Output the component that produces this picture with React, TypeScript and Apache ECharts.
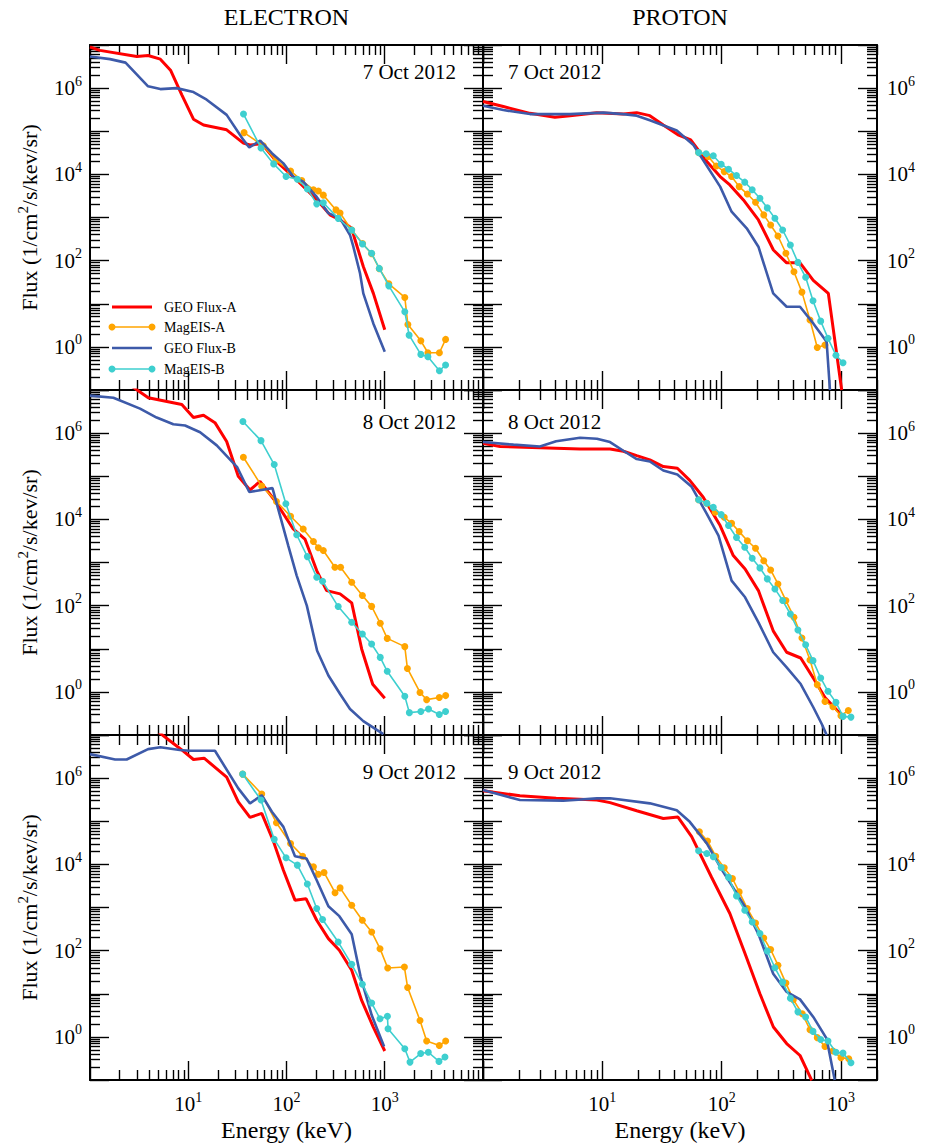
import React, { useEffect, useRef } from 'react';
import * as echarts from 'echarts';

type Pt = [number, number];

const FONT = "'Liberation Serif', 'Times New Roman', Times, serif";

// Headings and names
const COLUMN_TITLES = ['ELECTRON', 'PROTON'];
const DATE_LABELS = ['7 Oct 2012', '8 Oct 2012', '9 Oct 2012'];
const SERIES_NAMES = ['GEO Flux-A', 'MagEIS-A', 'GEO Flux-B', 'MagEIS-B'];
const X_NAME = 'Energy (keV)';

// Axis ranges and ticks
const FLUX_RANGE = [0.1, 1e7];
const ELECTRON_RANGE = [1, 1e4];
const PROTON_RANGE = [1, 2000];
const FLUX_DECADES = [0.1, 1, 10, 100, 1e3, 1e4, 1e5, 1e6, 1e7];
const FLUX_TICK_LABELS = [1, 100, 1e4, 1e6];
const ELECTRON_DECADES = [1, 10, 100, 1000, 10000];
const PROTON_DECADES = [1, 10, 100, 1000];
const ENERGY_TICK_LABELS = [10, 100, 1000];
const MINOR_STEPS = [2, 3, 4, 5, 6, 7, 8, 9];

// ---- 7 Oct 2012 ----
const e7GeoA: Pt[] = [[1.0, 9.0e6], [1.26, 7.5e6], [3.0, 5.4e6], [3.9, 5.7e6], [5.2, 4.7e6], [6.6, 2.6e6], [8.6, 7.0e5], [11.3, 1.9e5], [14.3, 1.4e5], [24.6, 1.08e5], [36.4, 5.3e4], [42.5, 4.8e4], [56, 5.1e4], [79, 2.0e4], [127, 7.4e3], [203, 2.6e3], [277, 1.15e3], [351, 880], [461, 562], [499, 300], [606, 72], [766, 17.4], [1000, 2.5]];
const e7MagA: Pt[] = [[37, 9.3e4], [58, 4.6e4], [78, 2.1e4], [110, 1.2e4], [143, 7.2e3], [188, 4.4e3], [211, 4.1e3], [237, 3.3e3], [319, 1.5e3], [351, 1.27e3], [461, 510], [594, 250], [735, 145], [880, 65], [1100, 29], [1600, 14], [1720, 3.3], [2330, 1.38], [2750, 0.73], [3600, 0.73], [4160, 1.49]];
const e7GeoB: Pt[] = [[1, 5.4e6], [1.6, 4.7e6], [2.3, 3.9e6], [3.9, 1.1e6], [5.2, 9.5e5], [7.6, 1.0e6], [11.3, 8.1e5], [15.4, 5.4e5], [24.6, 2.4e5], [36.4, 6.3e4], [41.8, 4.2e4], [54, 6.1e4], [71, 3.1e4], [93, 1.8e4], [117, 8.9e3], [148, 6.8e3], [203, 3.0e3], [267, 1.26e3], [351, 955], [443, 393], [479, 210], [560, 51], [605, 17.4], [765, 3.5], [1000, 0.77]];
const e7MagB: Pt[] = [[36.5, 2.5e5], [55, 4.1e4], [74, 1.75e4], [99, 8.9e3], [129, 7.7e3], [163, 4.6e3], [203, 2.07e3], [237, 2.2e3], [336, 955], [461, 513], [594, 243], [735, 148], [880, 66], [1100, 26], [1600, 6.5], [1770, 1.87], [2330, 0.67], [2750, 0.59], [3600, 0.28], [4160, 0.38]];

const p7GeoA: Pt[] = [[1, 4.9e5], [1.48, 3.75e5], [2.48, 2.6e5], [4.0, 2.1e5], [5.36, 2.3e5], [9.0, 2.7e5], [15, 2.5e5], [19.4, 2.7e5], [25, 2.3e5], [32.4, 1.4e5], [43, 8.3e4], [55, 6.3e4], [75, 2.0e4], [97, 8.9e3], [117, 5.7e3], [152, 2.55e3], [203, 877], [271, 176], [350, 89], [453, 89], [585, 35], [782, 17.4], [1012, 0.1]];
const p7MagA: Pt[] = [[64, 3.2e4], [77, 2.6e4], [90, 1.57e4], [105, 1.16e4], [121, 8.9e3], [140, 5.2e3], [164, 3.5e3], [192, 2.26e3], [225, 1.15e3], [257, 671], [296, 372], [345, 148], [403, 55], [470, 18.6], [549, 4.2], [632, 0.97], [733, 1.1]];
const p7GeoB: Pt[] = [[1, 3.9e5], [1.48, 3.1e5], [2.48, 2.5e5], [5.36, 2.5e5], [10.2, 2.7e5], [15, 2.5e5], [19.4, 2.3e5], [25, 1.8e5], [42, 1.04e5], [58, 4.8e4], [97, 5.2e3], [121, 1.36e3], [162, 562], [203, 210], [270, 17.4], [350, 8.5], [453, 8.5], [585, 3.5], [757, 1.31], [807, 0.1]];
const p7MagB: Pt[] = [[64, 3.2e4], [74, 3.0e4], [85, 2.7e4], [99, 1.72e4], [114, 1.32e4], [133, 9.4e3], [156, 6.6e3], [180, 4.4e3], [209, 2.8e3], [241, 1.67e3], [279, 960], [324, 513], [376, 230], [435, 91], [505, 41], [582, 11.7], [675, 3.95], [777, 1.58], [906, 0.64], [1038, 0.43]];

// ---- 8 Oct 2012 ----
const e8GeoA: Pt[] = [[2.44, 1.4e7], [3.92, 6.6e6], [8.6, 4.6e6], [11.3, 2.3e6], [14.3, 2.6e6], [18.7, 1.75e6], [24.6, 6.4e5], [32.3, 1.0e5], [42.5, 4.8e4], [53.8, 7.6e4], [76.4, 2.7e4], [117, 6.0e3], [154, 3.5e3], [203, 650], [256, 223], [351, 187], [461, 116], [582, 9.9], [754, 1.5], [1000, 0.71]];
const e8MagA: Pt[] = [[36.4, 2.75e5], [56, 5.9e4], [79, 2.6e4], [110, 1.18e4], [148, 6.0e3], [188, 3.06e3], [211, 2.2e3], [237, 1.9e3], [311, 776], [355, 776], [461, 347], [592, 171], [735, 96], [900, 39], [1060, 17.4], [1600, 11.2], [1700, 3.5], [2285, 0.97], [2670, 0.66], [3590, 0.74], [4170, 0.82]];
const e8GeoB: Pt[] = [[1, 7.4e6], [1.73, 6.6e6], [3.23, 3.7e6], [4.77, 2.3e6], [7.05, 1.6e6], [9.28, 1.5e6], [13.2, 1.05e6], [19.5, 5.2e5], [31.6, 1.6e5], [41.8, 4.3e4], [72, 5.3e4], [82, 1.8e4], [104, 2.5e3], [127, 497], [161, 100], [205, 9], [267, 2.4], [351, 0.89], [443, 0.4], [605, 0.21], [968, 0.105]];
const e8MagB: Pt[] = [[36, 1.86e6], [55, 6.7e5], [75, 1.87e5], [98.6, 2.3e4], [127, 4.4e3], [163, 1.37e3], [203, 454], [233, 366], [336, 95], [461, 41], [592, 22], [735, 12.9], [900, 6.3], [1060, 3.0], [1600, 0.79], [1780, 0.33], [2330, 0.35], [2790, 0.4], [3590, 0.3], [4160, 0.35]];

const p8GeoA: Pt[] = [[1, 5.8e5], [1.39, 4.9e5], [3.0, 4.6e5], [6.5, 4.3e5], [11.6, 4.3e5], [15, 3.8e5], [19.4, 3.0e5], [25, 2.4e5], [32.4, 1.68e5], [42.5, 1.53e5], [54, 8e4], [70, 3.26e4], [97, 7.2e3], [125, 1.45e3], [157, 710], [203, 223], [270, 26], [350, 8.3], [459, 6.1], [604, 1.82], [733, 0.74], [1000, 0.3]];
const p8MagA: Pt[] = [[64, 2.84e4], [75, 2.37e4], [88, 1.46e4], [105, 1.12e4], [121, 8.1e3], [140, 5.2e3], [164, 3.2e3], [192, 2.14e3], [225, 1.1e3], [257, 673], [296, 318], [345, 131], [403, 54], [470, 17.8], [549, 5.5], [632, 1.47], [733, 0.6], [855, 0.45], [998, 0.28], [1150, 0.37]];
const p8GeoB: Pt[] = [[1, 6.2e5], [1.8, 5.4e5], [3.0, 4.9e5], [4.1, 6.5e5], [6.5, 7.8e5], [9.0, 7.4e5], [11.6, 6.2e5], [15, 3.9e5], [19.4, 2.5e5], [25, 2.2e5], [32.4, 1.36e5], [42.5, 1.1e5], [56, 5.7e4], [75, 1.34e4], [94, 4.2e3], [121, 380], [157, 156], [203, 41], [270, 8.3], [350, 3.7], [459, 1.52], [585, 0.44], [689, 0.18], [757, 0.1]];
const p8MagB: Pt[] = [[64, 2.84e4], [75, 2.37e4], [85, 1.9e4], [99, 1.29e4], [114, 7.2e3], [133, 3.8e3], [156, 2.25e3], [180, 1.25e3], [209, 750], [241, 417], [279, 244], [324, 131], [376, 64], [435, 27.3], [505, 12.4], [582, 5.3], [675, 2.1], [777, 1.03], [906, 0.57], [1038, 0.27], [1210, 0.26]];

// ---- 9 Oct 2012 ----
const e9GeoA: Pt[] = [[4.1, 1.65e7], [8.6, 4.5e6], [11.3, 2.7e6], [14.5, 2.9e6], [24.6, 1.06e6], [32.3, 2.8e5], [42.5, 1.23e5], [56, 1.52e5], [73, 3.6e4], [93, 7.3e3], [122, 1.48e3], [158, 1.6e3], [203, 507], [267, 190], [345, 102], [461, 35], [582, 7.0], [765, 1.69], [1000, 0.47]];
const e9MagA: Pt[] = [[35.8, 1.24e6], [56, 4.3e5], [79, 9.2e4], [110, 3.06e4], [146, 1.55e4], [188, 8.8e3], [211, 5.9e3], [241, 6.5e3], [312, 2.2e3], [351, 2.85e3], [461, 1.13e3], [591, 507], [736, 271], [895, 111], [1072, 39.5], [1585, 41.7], [1710, 13.9], [2285, 2.4], [2670, 0.8], [3590, 0.63], [4170, 0.8]];
const e9GeoB: Pt[] = [[1, 3.6e6], [1.8, 2.7e6], [2.36, 2.7e6], [3.9, 4.7e6], [5.2, 5.2e6], [8.2, 4.5e6], [10.4, 4.3e6], [18.7, 4.3e6], [32.3, 5.8e5], [42.5, 2.6e5], [56, 4.0e5], [71, 1.66e5], [93, 7.4e4], [122, 1.55e4], [160, 1.37e4], [203, 4.3e3], [267, 1.07e3], [345, 630], [461, 240], [569, 24.4], [736, 3.2], [984, 0.6]];
const e9MagB: Pt[] = [[35.8, 1.24e6], [55, 3.1e5], [75, 3.8e4], [99, 1.42e4], [129, 9.6e3], [163, 3.5e3], [203, 946], [233, 525], [336, 158], [461, 48], [591, 16.6], [736, 6.1], [895, 2.64], [1065, 3.0], [1080, 1.55], [1600, 0.53], [1807, 0.26], [2322, 0.41], [2775, 0.44], [3564, 0.27], [4100, 0.34]];

const p9GeoA: Pt[] = [[1, 5.1e5], [2.04, 3.9e5], [4.1, 3.4e5], [9.0, 3.1e5], [11.6, 2.7e5], [19.4, 1.75e5], [32.4, 1.16e5], [43, 1.25e5], [56, 4.4e4], [82, 5.1e3], [117, 724], [157, 85], [209, 10], [271, 1.69], [350, 0.7], [453, 0.37], [568, 0.098]];
const p9MagA: Pt[] = [[65, 5.7e4], [76, 3.5e4], [89, 1.55e4], [105, 8.3e3], [123, 4.7e3], [140, 2.3e3], [164, 946], [192, 438], [225, 197], [257, 106], [296, 46], [345, 17.7], [398, 7.3], [473, 3.45], [549, 1.47], [632, 0.96], [733, 0.6], [855, 0.47], [998, 0.33], [1160, 0.31]];
const p9GeoB: Pt[] = [[1, 5.3e5], [2.04, 3.1e5], [4.7, 3.0e5], [9, 3.4e5], [11.6, 3.4e5], [25, 2.6e5], [42, 1.8e5], [54, 9.7e4], [75, 3.06e4], [97, 8.7e3], [121, 3.3e3], [157, 1.03e3], [205, 227], [270, 29], [350, 11], [453, 7.4], [585, 2.9], [757, 0.91], [885, 0.1]];
const p9MagB: Pt[] = [[64, 2.06e4], [75, 1.79e4], [85, 1.5e4], [99, 8.5e3], [114, 5.0e3], [133, 1.86e3], [156, 864], [180, 462], [209, 249], [241, 98], [279, 40], [324, 18.6], [376, 7.9], [435, 3.8], [505, 2.9], [582, 1.34], [675, 0.87], [777, 0.8], [906, 0.44], [1038, 0.42], [1210, 0.25]];

const PANEL_DATA: Pt[][][] = [
  [e7GeoA, e7MagA, e7GeoB, e7MagB], [p7GeoA, p7MagA, p7GeoB, p7MagB],
  [e8GeoA, e8MagA, e8GeoB, e8MagB], [p8GeoA, p8MagA, p8GeoB, p8MagB],
  [e9GeoA, e9MagA, e9GeoB, e9MagB], [p9GeoA, p9MagA, p9GeoB, p9MagB],
];

// Styling
const SERIES_COLORS = ['#ff0000', '#ffa500', '#3d5aa9', '#3ecfcf'];
const SERIES_WIDTHS = [3, 1.6, 2.6, 1.6];
const SERIES_MARKED = [false, true, false, true];
const GRID_LEFT = [90, 483];
const GRID_WIDTH = [393, 394];
const GRID_TOP = [45, 390, 735];
const GRID_HEIGHT = 345;
const MAJOR_LEN = 19;
const MINOR_LEN = 10;

const minorValues = (decades: number[], max: number) => {
  const out: number[] = [];
  decades.forEach((d) => MINOR_STEPS.forEach((s) => { const v = d * s; if (v <= max) out.push(v); }));
  return out;
};

const tickRich = {
  b: { fontFamily: FONT, fontSize: 21, color: '#000' },
  s: { fontFamily: FONT, fontSize: 14, color: '#000', padding: [0, 0, 14, 0] },
};
const powLabel = (v: number) => `{b|10}{s|${Math.round(Math.log10(v))}}`;

const buildOption = () => {
  const grid: any[] = [];
  const xAxis: any[] = [];
  const yAxis: any[] = [];
  const series: any[] = [];
  const graphic: any[] = [];
  const axisLine = { show: true, onZero: false, lineStyle: { color: '#000', width: 2 } };
  const tickStyle = { color: '#000', width: 1.4 };

  PANEL_DATA.forEach((lines, i) => {
    const row = Math.floor(i / 2);
    const col = i % 2;
    grid.push({ left: GRID_LEFT[col], top: GRID_TOP[row], width: GRID_WIDTH[col], height: GRID_HEIGHT });
    const eRange = col === 0 ? ELECTRON_RANGE : PROTON_RANGE;
    const eDecades = col === 0 ? ELECTRON_DECADES : PROTON_DECADES;
    const eMinor = minorValues(eDecades, eRange[1]);
    const fMinor = minorValues(FLUX_DECADES, FLUX_RANGE[1]);
    const base = 4 * i;

    ['bottom', 'top'].forEach((position) => {
      const labelled = position === 'bottom' && row === 2;
      xAxis.push({
        type: 'log', logBase: 10, gridIndex: i, position, min: eRange[0], max: eRange[1],
        axisLine,
        axisTick: { show: true, inside: true, length: MAJOR_LEN, customValues: eDecades, lineStyle: tickStyle },
        axisLabel: labelled
          ? { show: true, customValues: ENERGY_TICK_LABELS, formatter: powLabel, rich: tickRich, margin: 10 }
          : { show: false },
        splitLine: { show: false },
        name: labelled ? X_NAME : '',
        nameLocation: 'middle',
        nameGap: 38,
        nameTextStyle: { fontFamily: FONT, fontSize: 24, color: '#000' },
      });
      xAxis.push({
        type: 'log', logBase: 10, gridIndex: i, position, min: eRange[0], max: eRange[1],
        axisLine: { show: false, onZero: false },
        axisTick: { show: true, inside: true, length: MINOR_LEN, customValues: eMinor, lineStyle: tickStyle },
        axisLabel: { show: false },
        splitLine: { show: false },
      });
    });

    ['left', 'right'].forEach((position) => {
      const labelled = (position === 'left' && col === 0) || (position === 'right' && col === 1);
      const named = position === 'left' && col === 0;
      yAxis.push({
        type: 'log', logBase: 10, gridIndex: i, position, min: FLUX_RANGE[0], max: FLUX_RANGE[1],
        axisLine,
        axisTick: { show: true, inside: true, length: MAJOR_LEN, customValues: FLUX_DECADES, lineStyle: tickStyle },
        axisLabel: labelled
          ? { show: true, customValues: FLUX_TICK_LABELS, formatter: powLabel, rich: tickRich, margin: position === 'left' ? 8 : 10 }
          : { show: false },
        splitLine: { show: false },
        name: named ? '{t|Flux (1/cm}{s|2}{t|/s/kev/sr)}' : '',
        nameLocation: 'middle',
        nameRotate: 90,
        nameGap: 46,
        nameTextStyle: {
          rich: {
            t: { fontFamily: FONT, fontSize: 22, color: '#000' },
            s: { fontFamily: FONT, fontSize: 15, color: '#000', padding: [0, 0, 14, 0] },
          },
        },
      });
      yAxis.push({
        type: 'log', logBase: 10, gridIndex: i, position, min: FLUX_RANGE[0], max: FLUX_RANGE[1],
        axisLine: { show: false },
        axisTick: { show: true, inside: true, length: MINOR_LEN, customValues: fMinor, lineStyle: tickStyle },
        axisLabel: { show: false },
        splitLine: { show: false },
      });
    });

    lines.forEach((data, k) => {
      series.push({
        type: 'line',
        name: SERIES_NAMES[k],
        xAxisIndex: base,
        yAxisIndex: base,
        data,
        clip: true,
        silent: true,
        symbol: SERIES_MARKED[k] ? 'circle' : 'none',
        symbolSize: 7,
        showSymbol: SERIES_MARKED[k],
        lineStyle: { color: SERIES_COLORS[k], width: SERIES_WIDTHS[k] },
        itemStyle: { color: SERIES_COLORS[k], borderWidth: 0 },
        z: 3 + k,
      });
    });

    // date stamp in each panel
    const dateText = DATE_LABELS[row];
    graphic.push({
      type: 'text',
      x: col === 0 ? 456 : 508,
      y: [72, 422, 772][row],
      style: {
        text: dateText, fontFamily: FONT, fontSize: 21, fill: '#000',
        align: col === 0 ? 'right' : 'left', verticalAlign: 'middle',
      },
      z: 100,
    });
  });

  COLUMN_TITLES.forEach((t, c) => {
    graphic.push({
      type: 'text', x: GRID_LEFT[c] + GRID_WIDTH[c] / 2, y: 17,
      style: { text: t, fontFamily: FONT, fontSize: 24, fill: '#000', align: 'center', verticalAlign: 'middle' },
    });
  });

  // legend drawn inside the top-left panel
  const legendY = [307, 327, 348, 369];
  SERIES_NAMES.forEach((name, k) => {
    const y = legendY[k];
    graphic.push({
      type: 'line', shape: { x1: 112, y1: y, x2: 152, y2: y },
      style: { stroke: SERIES_COLORS[k], lineWidth: SERIES_WIDTHS[k] }, z: 100,
    });
    if (SERIES_MARKED[k]) {
      [112, 152].forEach((cx) => graphic.push({
        type: 'circle', shape: { cx, cy: y, r: 3.5 }, style: { fill: SERIES_COLORS[k] }, z: 101,
      }));
    }
    graphic.push({
      type: 'text', x: 164, y,
      style: { text: name, fontFamily: FONT, fontSize: 14, fill: '#000', align: 'left', verticalAlign: 'middle' },
      z: 100,
    });
  });

  return {
    animation: false,
    backgroundColor: '#fff',
    grid, xAxis, yAxis, series, graphic,
  };
};

export default function App() {
  const ref = useRef<HTMLDivElement>(null);
  useEffect(() => {
    if (!ref.current) return;
    const chart = echarts.init(ref.current, undefined, { renderer: 'svg' });
    chart.setOption(buildOption() as any);
    return () => chart.dispose();
  }, []);
  return <div ref={ref} style={{ position: 'absolute', left: 0, top: 0, width: 925, height: 1145 }} />;
}
